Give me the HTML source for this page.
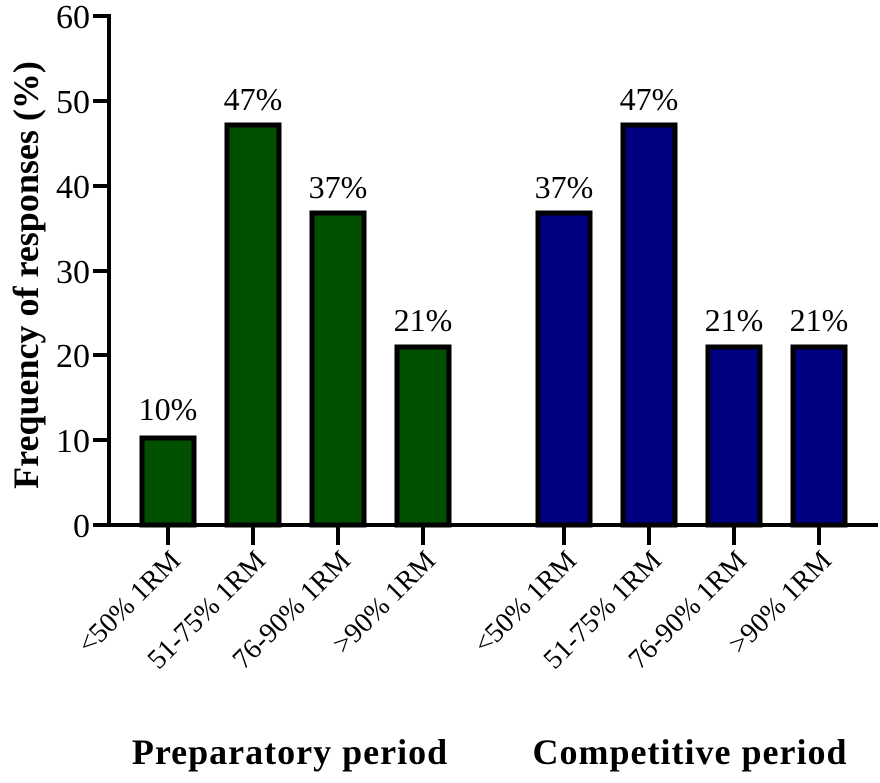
<!DOCTYPE html>
<html><head><style>body{margin:0;background:#fff}svg{display:block}</style></head><body>
<svg width="880" height="783" viewBox="0 0 880 783" xmlns="http://www.w3.org/2000/svg" font-family="Liberation Serif, serif">
<g stroke="#000" stroke-width="4">
<line x1="109" y1="14" x2="109" y2="527"/>
<line x1="107" y1="525" x2="878" y2="525"/>
<line x1="93" y1="16" x2="109" y2="16"/>
<line x1="93" y1="101" x2="109" y2="101"/>
<line x1="93" y1="186" x2="109" y2="186"/>
<line x1="93" y1="271" x2="109" y2="271"/>
<line x1="93" y1="355" x2="109" y2="355"/>
<line x1="93" y1="440" x2="109" y2="440"/>
<line x1="93" y1="525" x2="109" y2="525"/>
</g>
<g font-size="34" text-anchor="end">
<text x="90" y="28">60</text><text x="90" y="113">50</text><text x="90" y="198">40</text>
<text x="90" y="283">30</text><text x="90" y="367">20</text><text x="90" y="452">10</text><text x="90" y="537">0</text>
</g>
<text transform="translate(38,275) rotate(-90)" text-anchor="middle" font-size="36" font-weight="bold">Frequency of responses (%)</text>
<g stroke="#000" stroke-width="5">
<rect x="142" y="438" width="52" height="87" fill="#005000"/>
<rect x="227" y="125" width="52" height="400" fill="#005000"/>
<rect x="312" y="213" width="52" height="312" fill="#005000"/>
<rect x="397" y="347" width="52" height="178" fill="#005000"/>
<rect x="538" y="213" width="52" height="312" fill="#000080"/>
<rect x="623" y="125" width="52" height="400" fill="#000080"/>
<rect x="708" y="347" width="52" height="178" fill="#000080"/>
<rect x="793" y="347" width="52" height="178" fill="#000080"/>
</g>
<g font-size="32" text-anchor="middle">
<text x="168" y="420">10%</text><text x="253" y="110">47%</text><text x="338" y="198">37%</text><text x="423" y="331">21%</text>
<text x="564" y="198">37%</text><text x="649" y="110">47%</text><text x="734" y="331">21%</text><text x="819" y="331">21%</text>
</g>
<g stroke="#000" stroke-width="4">
<line x1="168" y1="527" x2="168" y2="545"/><line x1="253" y1="527" x2="253" y2="545"/>
<line x1="338" y1="527" x2="338" y2="545"/><line x1="423" y1="527" x2="423" y2="545"/>
<line x1="564" y1="527" x2="564" y2="545"/><line x1="649" y1="527" x2="649" y2="545"/>
<line x1="734" y1="527" x2="734" y2="545"/><line x1="819" y1="527" x2="819" y2="545"/>
</g>
<g font-size="28" text-anchor="end">
<text transform="translate(182,562) rotate(-45)">&lt;50% 1RM</text>
<text transform="translate(267,562) rotate(-45)">51-75% 1RM</text>
<text transform="translate(352,562) rotate(-45)">76-90% 1RM</text>
<text transform="translate(437,562) rotate(-45)">&gt;90% 1RM</text>
<text transform="translate(578,562) rotate(-45)">&lt;50% 1RM</text>
<text transform="translate(663,562) rotate(-45)">51-75% 1RM</text>
<text transform="translate(748,562) rotate(-45)">76-90% 1RM</text>
<text transform="translate(833,562) rotate(-45)">&gt;90% 1RM</text>
</g>
<g font-size="36" font-weight="bold" text-anchor="middle" letter-spacing="1">
<text x="290" y="764">Preparatory period</text>
<text x="690" y="764">Competitive period</text>
</g>
</svg>
</body></html>
